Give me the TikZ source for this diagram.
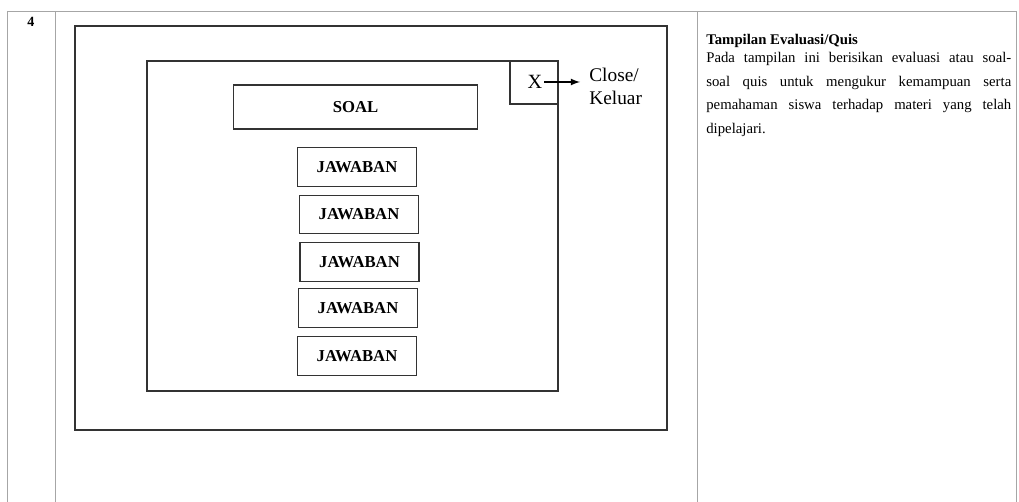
\documentclass[tikz,border=0pt]{standalone}
\usepackage{fontspec}
\setmainfont{Liberation Serif}
\usepackage{tikz}
\usetikzlibrary{arrows}

\tikzset{
  grid line/.style={draw=black!35, line width=0.5pt},
  frame/.style={draw=black!80, line width=0.9pt},
  ansbox/.style={draw=black!80, line width=0.8pt, minimum width=2.38cm, minimum height=0.77cm,
                 inner sep=0pt, font=\fontsize{9.5}{10}\selectfont\bfseries},
}

\begin{document}
\begin{tikzpicture}[x=0.02cm,y=-0.02cm]
          \useasboundingbox (0,0) rectangle (1019,502);
          % table lines
          \draw[grid line] (7,11) -- (1016,11);
          \draw[grid line] (7,11) -- (7,502) (55,11) -- (55,502)
          (697,11) -- (697,502) (1016,11) -- (1016,502);
          \node[font=\fontsize{8}{9}\selectfont\bfseries] (no) at (31,22) {4};
          % screen frames
          \draw[frame] (75,26) rectangle (667,430);
          \draw[frame] (147,61) rectangle (558,391);
          \draw[frame] (510,61) rectangle (558,104);
          \node[font=\fontsize{11.5}{12}\selectfont, inner sep=1pt] (xmark) at (535,82) {X};
          \node[font=\fontsize{11}{13}\selectfont, anchor=north west, align=left, inner sep=0pt] (close) at (589,68) {Close/\\Keluar};
          \draw[-latex, line width=0.8pt, shorten >=0.18cm] (xmark.east) -- (close.west |- xmark.east);
          % soal dan jawaban
          \node[ansbox, minimum width=4.88cm, minimum height=0.88cm] (soal) at (355.5,107) {SOAL};
          \node[ansbox] (jwb1) at (357,167) {JAWABAN};
          \node[ansbox] (jwb2) at (359,214.5) {JAWABAN};
          \node[ansbox] (jwb3) at (359.5,262) {JAWABAN};
          \node[ansbox] (jwb4) at (358,308) {JAWABAN};
          \node[ansbox] (jwb5) at (357,356) {JAWABAN};
          % keterangan
          \node[anchor=base west, inner sep=0pt, font=\fontsize{8.4}{9}\selectfont\bfseries] (title) at (706,45) {Tampilan Evaluasi/Quis};
          \node[anchor=north west, inner sep=0pt, text width=6.1cm, align=justify,
                font=\fontsize{8.4}{13.4}\selectfont] (desc) at (706,52)
                {Pada tampilan ini berisikan evaluasi atau soal-\linebreak soal quis untuk mengukur kemampuan serta\linebreak pemahaman siswa terhadap materi yang telah\linebreak dipelajari.};
\end{tikzpicture}
\end{document}
